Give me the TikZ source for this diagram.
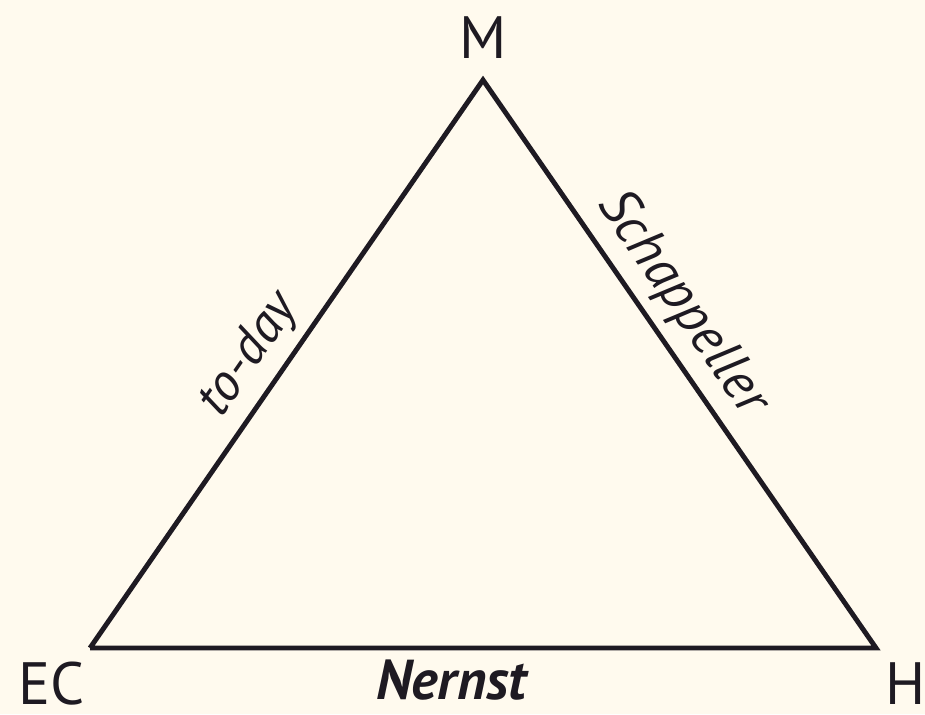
\documentclass[tikz,border=0pt]{standalone}
\usepackage{xcolor}
\usepackage{fontspec}
\setmainfont{PT Sans}
\usepackage{tikz}

\definecolor{paper}{HTML}{FFFAEE}
\definecolor{ink}{HTML}{1E1A22}

\begin{document}
\begin{tikzpicture}[x=0.02cm, y=0.02cm]
  % Paper
  \fill[paper] (0,0) rectangle (925,714);
  \useasboundingbox (0,0) rectangle (925,714);

  % Corners
  \coordinate (m) at (483,634);
  \coordinate (ec) at (90,66);
  \coordinate (h) at (876,66);

  % Triangle with its sides named
  \draw[ink, line width=2.8pt, line join=miter] (ec)
    -- node[pos=0.48, sloped, above=2pt, font=\fontsize{30}{32}\selectfont\itshape, text=ink] (today) {to-day} (m)
    -- node[pos=0.43, sloped, above=2pt, font=\fontsize{31}{32}\selectfont\itshape, text=ink] (schap) {Schappeller} (h)
    -- node[pos=0.54, below=2pt, font=\fontsize{32}{34}\selectfont\itshape\bfseries, text=ink] (nernst) {Nernst} (ec);

  % Corner letters
  \node[font=\fontsize{34}{36}\selectfont, text=ink] (mlabel) at (483,676) {M};
  \node[font=\fontsize{34}{36}\selectfont, text=ink] (eclabel) at (52,30) {EC};
  \node[font=\fontsize{34}{36}\selectfont, text=ink] (hlabel) at (906,30) {H};
\end{tikzpicture}
\end{document}
